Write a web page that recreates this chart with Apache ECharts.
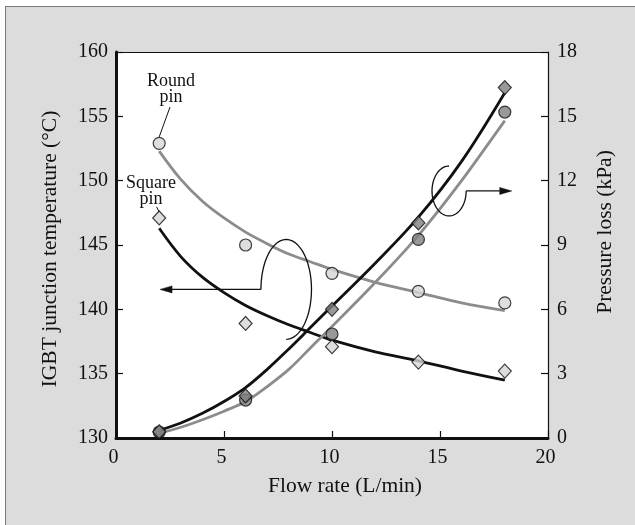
<!DOCTYPE html>
<html><head><meta charset="utf-8">
<script src="https://cdn.jsdelivr.net/npm/echarts@6/dist/echarts.min.js"></script>
<style>
html,body{margin:0;padding:0;background:#fff;}
#wrap{position:relative;width:635px;height:525px;overflow:hidden;}
#frame{position:absolute;left:5px;top:6px;width:640px;height:530px;background:#dcdcdc;border-left:1px solid #7a7a7a;border-top:1px solid #7a7a7a;}
#chart{position:absolute;left:0;top:0;width:635px;height:525px;}
</style></head>
<body><div id="wrap"><div id="frame"></div><div id="chart"></div></div>
<script>
// ---- data ----
const flowRates = [2, 6, 10, 14, 18];
const roundTemp = [152.9, 145.0, 142.8, 141.4, 140.5];
const squareTemp = [147.1, 138.9, 137.1, 135.9, 135.2];
const roundPressure = [0.28, 1.77, 4.85, 9.26, 15.2];
const squarePressure = [0.29, 1.96, 6.0, 10.03, 16.34];

const fitX = [2, 3, 4, 5, 6, 7, 8, 9, 10, 12, 14, 16, 18];
const roundTempFit = [152.3, 150.1, 148.4, 147.1, 146.0, 145.1, 144.3, 143.7, 143.1, 142.1, 141.3, 140.5, 139.9];
const squareTempFit = [146.3, 144.1, 142.5, 141.3, 140.3, 139.5, 138.8, 138.2, 137.6, 136.7, 136.0, 135.2, 134.5];
const roundPressureFit = [0.22, 0.5, 0.85, 1.25, 1.7, 2.4, 3.2, 4.2, 5.2, 7.25, 9.45, 12.0, 14.8];
const squarePressureFit = [0.35, 0.7, 1.15, 1.7, 2.35, 3.2, 4.15, 5.15, 6.15, 8.15, 10.3, 12.9, 16.1];

const xTicks = [0, 5, 10, 15, 20];
const tempTicks = [130, 135, 140, 145, 150, 155, 160];
const pressureTicks = [0, 3, 6, 9, 12, 15, 18];

const xTitle = 'Flow rate (L/min)';
const leftTitle = 'IGBT junction temperature (°C)';
const rightTitle = 'Pressure loss (kPa)';
const roundLabel = 'Round\npin';
const squareLabel = 'Square\npin';

// ---- chart ----
const FONT = "'Liberation Serif', 'Times New Roman', serif";
const INK = '#111';
const GRAY_LINE = '#8c8c8c';
const LIGHT_FILL = '#d6d6d6';
const DARK_FILL = '#808080';

function zip(xs, ys) { return xs.map((x, i) => [x, ys[i]]); }

const chart = echarts.init(document.getElementById('chart'), null, { renderer: 'canvas' });

const labelStyle = { fontFamily: FONT, fontSize: 20, color: INK };

function fitSeries(name, ys, yAxisIndex, color) {
  return { name: name, type: 'line', xAxisIndex: 0, yAxisIndex: yAxisIndex, data: zip(fitX, ys),
    showSymbol: false, smooth: 0.35, lineStyle: { color: color, width: 2.8 }, z: 2 };
}
function markerSeries(name, ys, yAxisIndex, symbol, size, fill) {
  return { name: name, type: 'scatter', xAxisIndex: 0, yAxisIndex: yAxisIndex, data: zip(flowRates, ys),
    symbol: symbol, symbolSize: size, itemStyle: { color: fill, borderColor: INK, borderWidth: 1.2 }, z: 3 };
}

const option = {
  animation: false,
  backgroundColor: 'transparent',
  grid: { left: 116, top: 52, right: 87, bottom: 87, show: true, backgroundColor: '#fff', borderWidth: 0 },
  xAxis: [
    {
      type: 'value', position: 'bottom',
      min: xTicks[0], max: xTicks[xTicks.length - 1], interval: xTicks[1] - xTicks[0],
      axisLine: { show: true, onZero: false, lineStyle: { color: INK, width: 3 } },
      axisTick: { show: true, inside: true, length: 7, lineStyle: { color: INK, width: 1.2 } },
      axisLabel: Object.assign({ margin: 10, padding: [0, 5, 0, 0] }, labelStyle),
      splitLine: { show: false }
    },
    {
      type: 'value', position: 'top',
      min: xTicks[0], max: xTicks[xTicks.length - 1], interval: xTicks[1] - xTicks[0],
      axisLine: { show: true, onZero: false, lineStyle: { color: INK, width: 1.2 } },
      axisTick: { show: false }, axisLabel: { show: false }, splitLine: { show: false }
    }
  ],
  yAxis: [
    {
      type: 'value', position: 'left',
      min: tempTicks[0], max: tempTicks[tempTicks.length - 1], interval: tempTicks[1] - tempTicks[0],
      axisLine: { show: true, onZero: false, lineStyle: { color: INK, width: 3 } },
      axisTick: { show: true, inside: true, length: 7, lineStyle: { color: INK, width: 1.2 } },
      axisLabel: Object.assign({ margin: 8 }, labelStyle),
      splitLine: { show: false }
    },
    {
      type: 'value', position: 'right',
      min: pressureTicks[0], max: pressureTicks[pressureTicks.length - 1], interval: pressureTicks[1] - pressureTicks[0],
      axisLine: { show: true, onZero: false, lineStyle: { color: INK, width: 1.2 } },
      axisTick: { show: true, inside: true, length: 7, lineStyle: { color: INK, width: 1.2 } },
      axisLabel: Object.assign({ margin: 9 }, labelStyle),
      splitLine: { show: false }
    }
  ],
  series: [
    fitSeries('Round pin temperature fit', roundTempFit, 0, GRAY_LINE),
    fitSeries('Square pin temperature fit', squareTempFit, 0, INK),
    fitSeries('Round pin pressure fit', roundPressureFit, 1, GRAY_LINE),
    fitSeries('Square pin pressure fit', squarePressureFit, 1, INK),
    markerSeries('Round pin temperature', roundTemp, 0, 'circle', 12, LIGHT_FILL),
    markerSeries('Square pin temperature', squareTemp, 0, 'diamond', [13, 14], LIGHT_FILL),
    markerSeries('Round pin pressure', roundPressure, 1, 'circle', 12, DARK_FILL),
    markerSeries('Square pin pressure', squarePressure, 1, 'diamond', [13, 14], DARK_FILL)
  ]
};
chart.setOption(option);

// ---- annotations (anchored in data coordinates) ----
function pT(p) { return chart.convertToPixel({ xAxisIndex: 0, yAxisIndex: 0 }, p); }
function pP(p) { return chart.convertToPixel({ xAxisIndex: 0, yAxisIndex: 1 }, p); }

const g = [];
const strokeStyle = { stroke: INK, lineWidth: 1.3, fill: null };

function arcPoints(cx, cy, rx, ry, a0, a1) {
  const pts = [];
  const n = 60;
  for (let i = 0; i <= n; i++) {
    const t = a0 + (a1 - a0) * i / n;
    pts.push([cx + rx * Math.cos(t), cy + ry * Math.sin(t)]);
  }
  return pts;
}

function loop(toPx, center, rxD, ryD, tipX, side) {
  const c = toPx(center);
  const rx = toPx([center[0] + rxD, center[1]])[0] - c[0];
  const ry = c[1] - toPx([center[0], center[1] + ryD])[1];
  const tip = toPx([tipX, center[1]]);
  let pts, joinX;
  if (side === 'left') {
    joinX = c[0] - rx;
    pts = arcPoints(c[0], c[1], rx, ry, Math.PI, Math.PI * 2.5);
  } else {
    joinX = c[0] + rx;
    pts = arcPoints(c[0], c[1], rx, ry, Math.PI * 1.5, 0);
  }
  g.push({ type: 'polyline', shape: { points: pts }, style: strokeStyle, z: 10 });
  const dir = side === 'left' ? 1 : -1;
  const head = 12;
  g.push({ type: 'polyline', shape: { points: [[joinX, c[1]], [tip[0] + dir * head, c[1]]] }, style: strokeStyle, z: 10 });
  g.push({ type: 'polygon', shape: { points: [[tip[0], c[1]], [tip[0] + dir * head, c[1] - 3.5], [tip[0] + dir * head, c[1] + 3.5]] },
    style: { fill: INK, stroke: INK, lineWidth: 0.5 }, z: 10 });
}
loop(pT, [7.88, 141.55], 1.17, 3.88, 2.04, 'left');
loop(pP, [15.42, 11.52], 0.79, 1.165, 18.32, 'right');

function label(text, center, from, to) {
  const c = pT(center);
  g.push({ type: 'text', x: c[0], y: c[1], style: { text: text, fontFamily: FONT, fontSize: 18, lineHeight: 16,
    fill: INK, align: 'center', verticalAlign: 'middle' }, z: 10 });
  const a = pT(from), b = pT(to);
  g.push({ type: 'line', shape: { x1: a[0], y1: a[1], x2: b[0], y2: b[1] }, style: { stroke: INK, lineWidth: 1 }, z: 10 });
}
label(roundLabel, [2.55, 157.1], [2.5, 155.72], [2.0, 153.4]);
label(squareLabel, [1.62, 149.19], [1.88, 147.96], [2.0, 147.57]);

// axis titles
const titleStyle = { fontFamily: FONT, fontSize: 21.5, fill: INK, align: 'center', verticalAlign: 'middle' };
g.push({ type: 'text', x: 345, y: 486, style: Object.assign({ text: xTitle }, titleStyle), z: 10 });
g.push({ type: 'text', x: 50, y: 249, rotation: Math.PI / 2, style: Object.assign({ text: leftTitle }, titleStyle), z: 10 });
g.push({ type: 'text', x: 605, y: 232, rotation: Math.PI / 2, style: Object.assign({ text: rightTitle }, titleStyle), z: 10 });

chart.setOption({ graphic: g });
</script>
</body></html>
